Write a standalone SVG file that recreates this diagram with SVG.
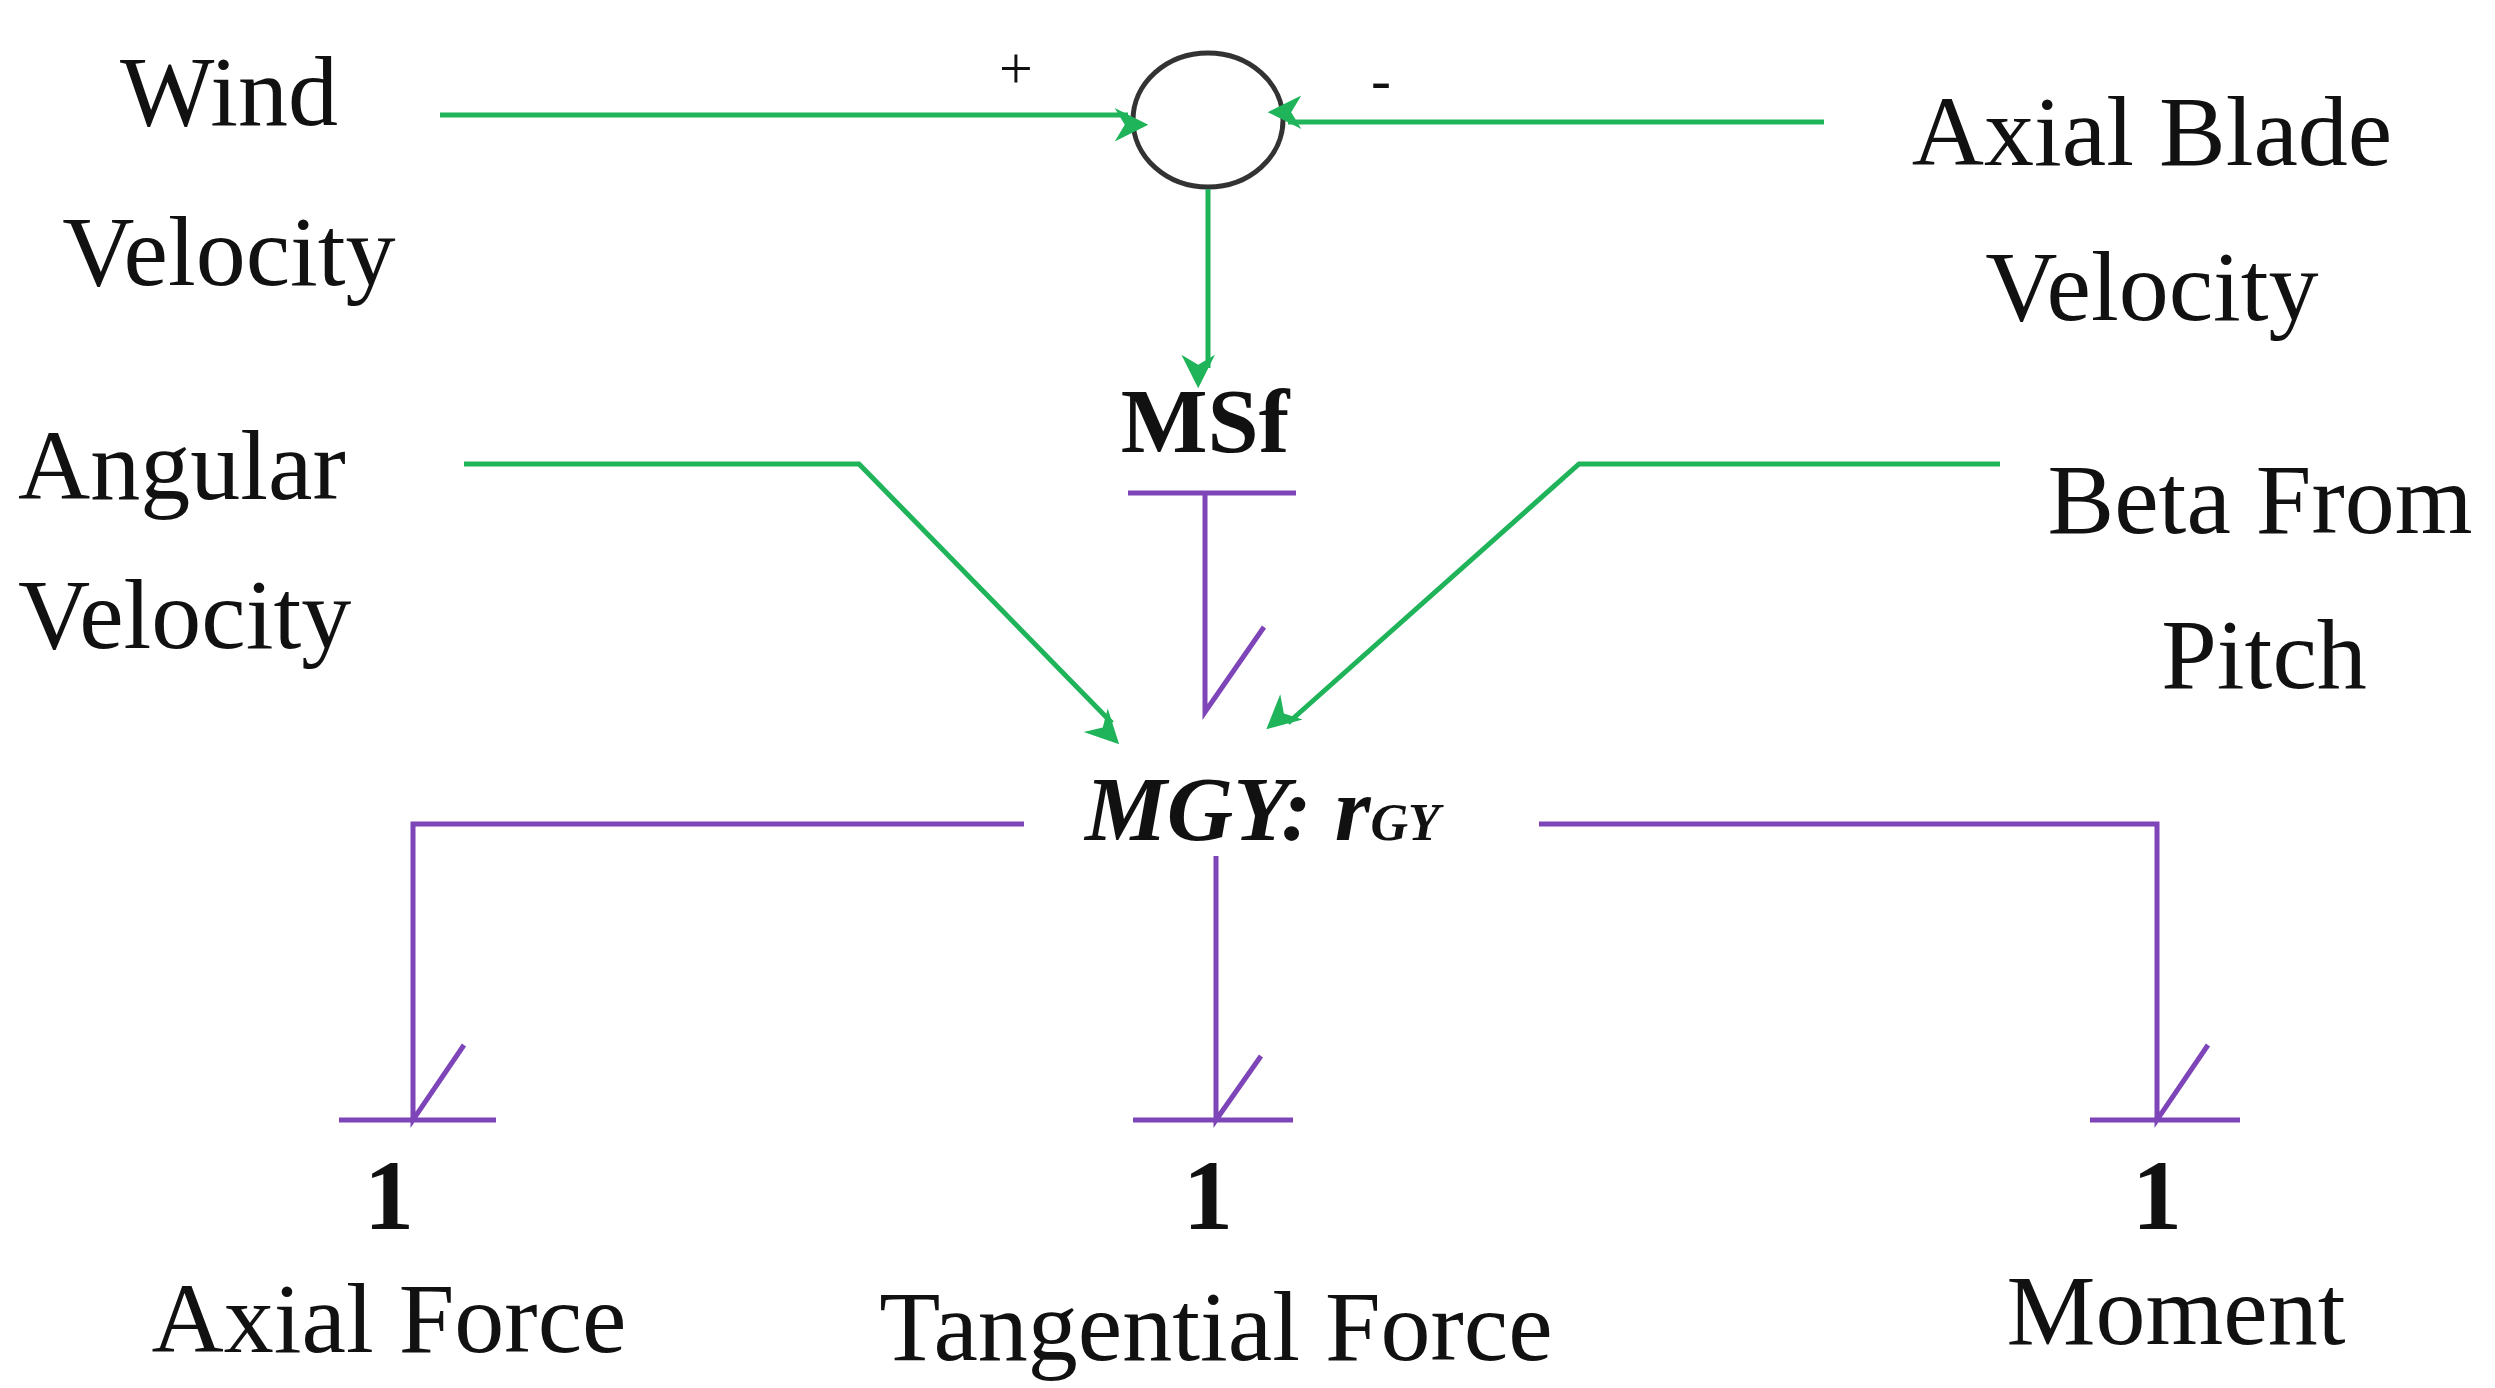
<svg xmlns="http://www.w3.org/2000/svg" width="2495" height="1388" viewBox="0 0 2495 1388">
<style>
text{font-family:"Liberation Serif",serif;font-size:100px;fill:#111}
.g{stroke:#1fb45a;stroke-width:5;fill:none}
.p{stroke:#7e45b8;stroke-width:5;fill:none}
.c{text-anchor:middle}
</style>
<defs>
<marker id="a" viewBox="0 0 20 20" refX="19" refY="10" markerWidth="14" markerHeight="14" markerUnits="userSpaceOnUse" orient="auto" style="overflow:visible">
<path d="M0,0 L20,10 L0,20 L6,10 Z" fill="#1fb45a" transform="scale(2.4)"/>
</marker>
</defs>
<rect width="2495" height="1388" fill="#fff"/>
<g id="sum"><ellipse cx="1208" cy="120" rx="75" ry="67" fill="none" stroke="#333" stroke-width="5"/>
<text x="1016" y="88" class="c" style="font-size:60px">+</text><text x="1381" y="100" class="c" style="font-size:60px">-</text></g>
<g id="msf"><text x="1205" y="452" class="c" style="font-weight:bold;font-size:92px">MSf</text></g>
<g id="mgy"><text x="1085" y="840" style="font-style:italic;font-weight:bold;font-size:92px">MGY: <tspan style="font-size:92px">r</tspan><tspan style="font-size:52px">GY</tspan></text></g>
<g id="wind"><text x="229" y="125" class="c">Wind</text><text x="229" y="285" class="c">Velocity</text></g>
<g id="axialblade"><text x="2152" y="165" class="c">Axial Blade</text><text x="2152" y="320" class="c">Velocity</text></g>
<g id="angular"><text x="18" y="499">Angular</text><text x="18" y="648">Velocity</text></g>
<g id="beta"><text x="2260" y="533" class="c">Beta From</text><text x="2264" y="688" class="c">Pitch</text></g>
<g id="out1"><text x="389" y="1229" class="c" style="font-weight:bold">1</text><text x="389" y="1352" class="c">Axial Force</text></g>
<g id="out2"><text x="1208" y="1229" class="c" style="font-weight:bold">1</text><text x="1216" y="1360" class="c">Tangential Force</text></g>
<g id="out3"><text x="2157" y="1229" class="c" style="font-weight:bold">1</text><text x="2176" y="1344" class="c">Moment</text></g>
<g id="connectors">
<path class="g" d="M440,115 H1128" marker-end="url(#a)"/>
<path class="g" d="M1824,122 H1288" marker-end="url(#a)"/>
<path class="g" d="M1208,189 V368" marker-end="url(#a)"/>
<path class="g" d="M464,464 H859 L1112,723" marker-end="url(#a)"/>
<path class="g" d="M2000,464 H1579 L1288,723" marker-end="url(#a)"/>
<path class="p" d="M1128,493 H1296 M1205,493 V712 L1264,627"/>
<path class="p" d="M1024,824 H413 V1120 L464,1045 M339,1120 H496"/>
<path class="p" d="M1216,856 V1120 L1261,1056 M1133,1120 H1293"/>
<path class="p" d="M1539,824 H2157 V1120 L2208,1045 M2090,1120 H2240"/>
</g>
</svg>
